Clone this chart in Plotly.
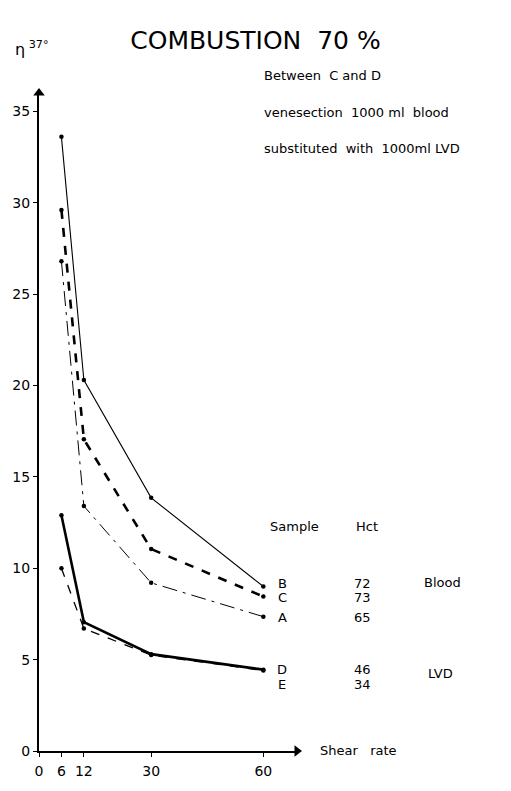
import plotly.graph_objects as go

# ---- data ----
shear_rate = [6, 12, 30, 60]
sample_B = [33.6, 20.3, 13.85, 9.0]
sample_C = [29.6, 17.05, 11.05, 8.45]
sample_A = [26.8, 13.4, 9.2, 7.35]
sample_D = [12.9, 7.05, 5.3, 4.45]
sample_E = [10.0, 6.7, 5.25, 4.4]

y_ticks = [0, 5, 10, 15, 20, 25, 30, 35]
x_ticks = [0, 6, 12, 30, 60]

hct_labels = ["72", "73", "65", "46", "34"]

X_MAX, Y_MAX = 69, 36

W, H = 511, 791
ML, MR, MT, MB = 36, 214, 93, 23
FONT = "DejaVu Sans"

fig = go.Figure()

series = [
    ("B", sample_B, dict(width=1.1, dash="solid")),
    ("C", sample_C, dict(width=2.6, dash="dash")),
    ("A", sample_A, dict(width=1.0, dash="longdashdot")),
    ("D", sample_D, dict(width=2.6, dash="solid")),
    ("E", sample_E, dict(width=1.3, dash="dash")),
]
for name, ys, ln in series:
    fig.add_trace(go.Scatter(
        x=shear_rate, y=ys, mode="lines+markers", name=name,
        line=dict(color="black", **ln),
        marker=dict(color="black", size=4.5),
        showlegend=False,
    ))

# arrowheads at axis ends
fig.add_trace(go.Scatter(x=[X_MAX], y=[0], mode="markers", cliponaxis=False, showlegend=False,
                         marker=dict(symbol="triangle-right", size=10, color="black")))
fig.add_trace(go.Scatter(x=[0], y=[Y_MAX], mode="markers", cliponaxis=False, showlegend=False,
                         marker=dict(symbol="triangle-up", size=10, color="black")))

fig.update_layout(
    width=W, height=H,
    margin=dict(l=ML, r=MR, t=MT, b=MB),
    paper_bgcolor="white", plot_bgcolor="white",
    font=dict(family=FONT, color="black", size=13),
    title=dict(text="COMBUSTION  70 %", x=0.5, xanchor="center",
               y=1 - 40 / H, yanchor="middle", yref="container",
               font=dict(size=25, family=FONT)),
    xaxis=dict(range=[0, X_MAX], tickvals=x_ticks, ticktext=[str(t) for t in x_ticks],
               showgrid=False, zeroline=False, showline=True, linewidth=2, linecolor="black",
               ticks="outside", ticklen=4, tickcolor="black",
               tickfont=dict(size=14), ticklabelstandoff=2),
    yaxis=dict(range=[0, Y_MAX], tickvals=y_ticks, showgrid=False, zeroline=False,
               showline=True, linewidth=2, linecolor="black",
               ticks="outside", ticklen=4, tickcolor="black",
               tickfont=dict(size=14)),
)

PW = W - ML - MR
PH = H - MT - MB


def px(x, y, text, anchor="left", size=13):
    fig.add_annotation(x=(x - ML) / PW, y=(H - MB - y) / PH, xref="paper", yref="paper",
                       text=text, showarrow=False, xanchor=anchor, yanchor="middle",
                       font=dict(size=size, family=FONT))


px(10, 47, "η<sup> 37°</sup>", size=16)
px(262, 75, "Between  C and D")
px(262, 113, "venesection  1000 ml  blood")
px(262, 150, "substituted  with  1000ml LVD")
px(268, 538, "Sample")
px(355, 538, "Hct")
labels = ["B", "C", "A", "D", "E"]
ly = [596, 611, 631, 684, 700]
for lab, yy, h in zip(labels, ly, hct_labels):
    px(282, yy, lab, anchor="center")
    px(363, yy, h, anchor="center")
px(423, 595, "Blood")
px(427, 689, "LVD")
px(318, 767, "Shear   rate")

fig.write_html("out.html")
